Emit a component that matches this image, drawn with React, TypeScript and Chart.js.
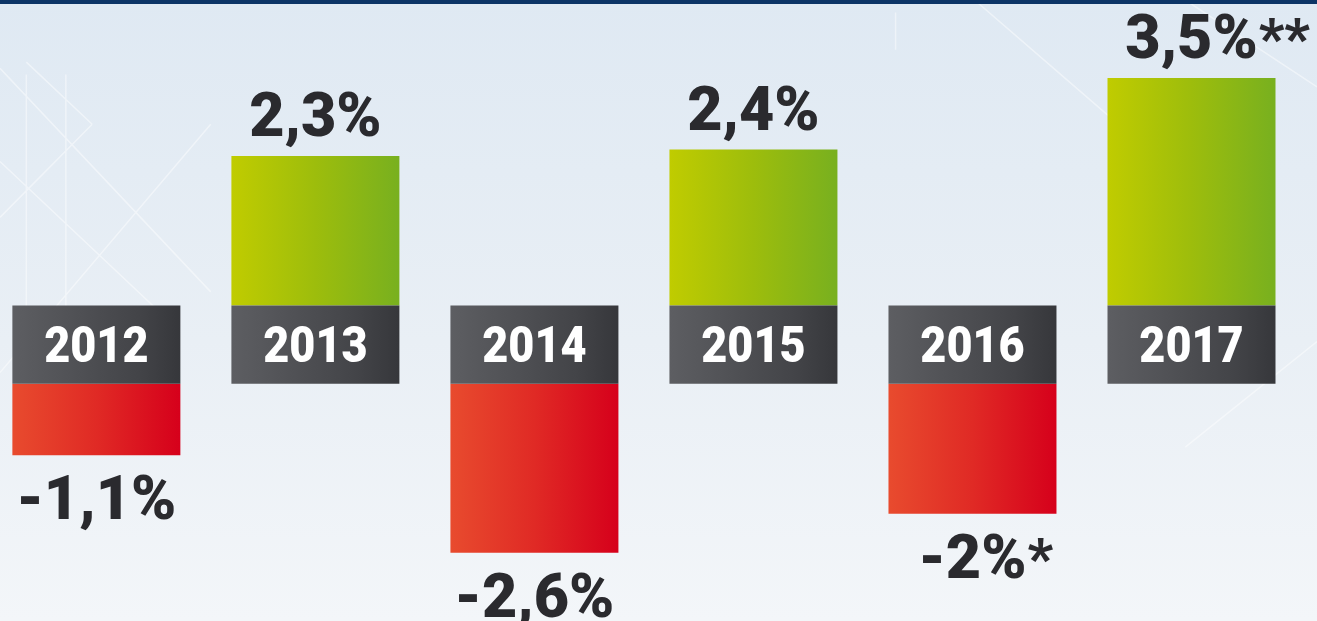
import React, { useEffect, useRef } from "react";
import { Chart, registerables } from "chart.js";

Chart.register(...registerables);

// ---- data ----
const years: string[] = ["2012", "2013", "2014", "2015", "2016", "2017"];
const growth: number[] = [-1.1, 2.3, -2.6, 2.4, -2.0, 3.5];
const valueLabels: string[] = ["-1,1%", "2,3%", "-2,6%", "2,4%", "-2%", "3,5%"];
const footnotes: string[] = ["", "", "", "", "*", "**"];

// height of the dark year box, in value units
const BOX = 1.2;
const BAR_PCT = 0.767;

const FONT = "Roboto, 'Liberation Sans', sans-serif";
const TEXT_DARK = "#2a2a2e";

function barGradient(c: any, stops: [number, string][], fallback: string) {
  const chart = c.chart;
  if (!chart.chartArea || !c.raw || !chart.scales || !chart.scales.x) return fallback;
  const xs = chart.scales.x;
  const cx = xs.getPixelForValue(c.raw.x);
  const half = ((xs.getPixelForValue(1) - xs.getPixelForValue(0)) * BAR_PCT) / 2;
  const g = chart.ctx.createLinearGradient(cx - half, 0, cx + half, 0);
  stops.forEach(([o, col]) => g.addColorStop(o, col));
  return g;
}

const backgroundPlugin = {
  id: "bg",
  beforeDraw(chart: any) {
    const { ctx, width, height } = chart;
    ctx.save();
    const g = ctx.createLinearGradient(0, 0, 0, height);
    g.addColorStop(0, "#dfe9f3");
    g.addColorStop(0.55, "#e9eff5");
    g.addColorStop(1, "#f3f6f9");
    ctx.fillStyle = g;
    ctx.fillRect(0, 0, width, height);

    // faint decorative lines
    ctx.strokeStyle = "rgba(255,255,255,0.45)";
    ctx.lineWidth = 1.5;
    const lines: [number, number, number, number][] = [
      [0, 0.11, 0.16, 0.47],
      [0.02, 0.1, 0.07, 0.2],
      [0.07, 0.2, 0.0, 0.35],
      [0.0, 0.26, 0.12, 0.5],
      [0.16, 0.2, 0.0, 0.6],
      [0.02, 0.12, 0.02, 0.5],
      [0.05, 0.12, 0.05, 0.5],
      [0.74, 0.0, 0.86, 0.22],
      [0.9, 0.0, 1.0, 0.14],
      [1.0, 0.55, 0.9, 0.72],
      [0.68, 0.02, 0.68, 0.08],
    ];
    ctx.beginPath();
    lines.forEach(([x1, y1, x2, y2]) => {
      ctx.moveTo(x1 * width, y1 * height);
      ctx.lineTo(x2 * width, y2 * height);
    });
    ctx.stroke();

    // navy strip at top
    ctx.fillStyle = "#0c3466";
    ctx.fillRect(0, 0, width, 4);
    ctx.restore();
  },
};

const labelPlugin = {
  id: "labels",
  afterDatasetsDraw(chart: any) {
    const { ctx } = chart;
    const boxMeta = chart.getDatasetMeta(0);
    const posMeta = chart.getDatasetMeta(1);
    const negMeta = chart.getDatasetMeta(2);
    ctx.save();

    // year labels on the dark boxes
    const yearSize = 50;
    boxMeta.data.forEach((el: any, i: number) => {
      const top = Math.min(el.y, el.base);
      const bottom = Math.max(el.y, el.base);
      const cy = (top + bottom) / 2;
      ctx.save();
      ctx.translate(el.x, cy + yearSize * 0.355);
      ctx.scale(0.9, 1);
      ctx.font = `900 ${yearSize}px ${FONT}`;
      ctx.fillStyle = "#ffffff";
      ctx.textAlign = "center";
      ctx.textBaseline = "alphabetic";
      ctx.fillText(years[i], 0, 0);
      ctx.restore();
    });

    // value labels
    const valSize = 61;
    const draw = (meta: any, positive: boolean) => {
      meta.data.forEach((el: any, j: number) => {
        const raw = meta._dataset.data[j];
        const i = raw.x;
        const top = Math.min(el.y, el.base);
        const bottom = Math.max(el.y, el.base);
        const baseline = positive ? top - 20 : bottom + 64;
        ctx.font = `900 ${valSize}px ${FONT}`;
        ctx.fillStyle = TEXT_DARK;
        ctx.textBaseline = "alphabetic";
        ctx.textAlign = "center";
        ctx.fillText(valueLabels[i], el.x, baseline);
        if (footnotes[i]) {
          const w = ctx.measureText(valueLabels[i]).width;
          ctx.textAlign = "left";
          ctx.font = `900 ${valSize * 0.9}px ${FONT}`;
          ctx.fillText(footnotes[i], el.x + w / 2 + 1, baseline);
        }
      });
    };
    draw(posMeta, true);
    draw(negMeta, false);
    ctx.restore();
  },
};

export default function App() {
  const ref = useRef<HTMLCanvasElement | null>(null);

  useEffect(() => {
    if (!ref.current) return;
    const boxData = years.map((_, i) => ({ x: i, y: [-BOX, 0] }));
    const posData = growth
      .map((v, i) => (v > 0 ? { x: i, y: [0, v] } : null))
      .filter(Boolean);
    const negData = growth
      .map((v, i) => (v < 0 ? { x: i, y: [-BOX, -BOX + v] } : null))
      .filter(Boolean);

    const chart = new Chart(ref.current, {
      type: "bar",
      data: {
        datasets: [
          {
            label: "year",
            data: boxData as any,
            grouped: false,
            backgroundColor: (c: any) =>
              barGradient(c, [[0, "#5d5e62"], [0.75, "#434448"], [1, "#36373b"]], "#48494d"),
          } as any,
          {
            label: "growth",
            data: posData as any,
            grouped: false,
            backgroundColor: (c: any) =>
              barGradient(c, [[0, "#c0cc00"], [0.5, "#9dbd0c"], [1, "#78b01f"]], "#9dbd0c"),
          } as any,
          {
            label: "decline",
            data: negData as any,
            grouped: false,
            backgroundColor: (c: any) =>
              barGradient(c, [[0, "#e84b2e"], [0.5, "#e02a25"], [1, "#d6001b"]], "#e02a25"),
          } as any,
        ],
      },
      options: {
        animation: false,
        responsive: false,
        layout: { padding: 0 },
        datasets: {
          bar: {
            categoryPercentage: 1,
            barPercentage: BAR_PCT,
            borderWidth: 0,
          },
        } as any,
        scales: {
          x: {
            type: "linear",
            min: -0.44,
            max: 5.573,
            offset: false,
            display: false,
            afterBuildTicks: (scale: any) => {
              scale.ticks = years.map((_, i) => ({ value: i }));
            },
          },
          y: { type: "linear", min: -4.85, max: 4.7, display: false },
        },
        plugins: {
          legend: { display: false },
          tooltip: { enabled: false },
        },
      },
      plugins: [backgroundPlugin, labelPlugin],
    });
    return () => chart.destroy();
  }, []);

  return (
    <div style={{ position: "fixed", left: 0, top: 0, width: 1317, height: 621 }}>
      <canvas ref={ref} width={1317} height={621} />
    </div>
  );
}
